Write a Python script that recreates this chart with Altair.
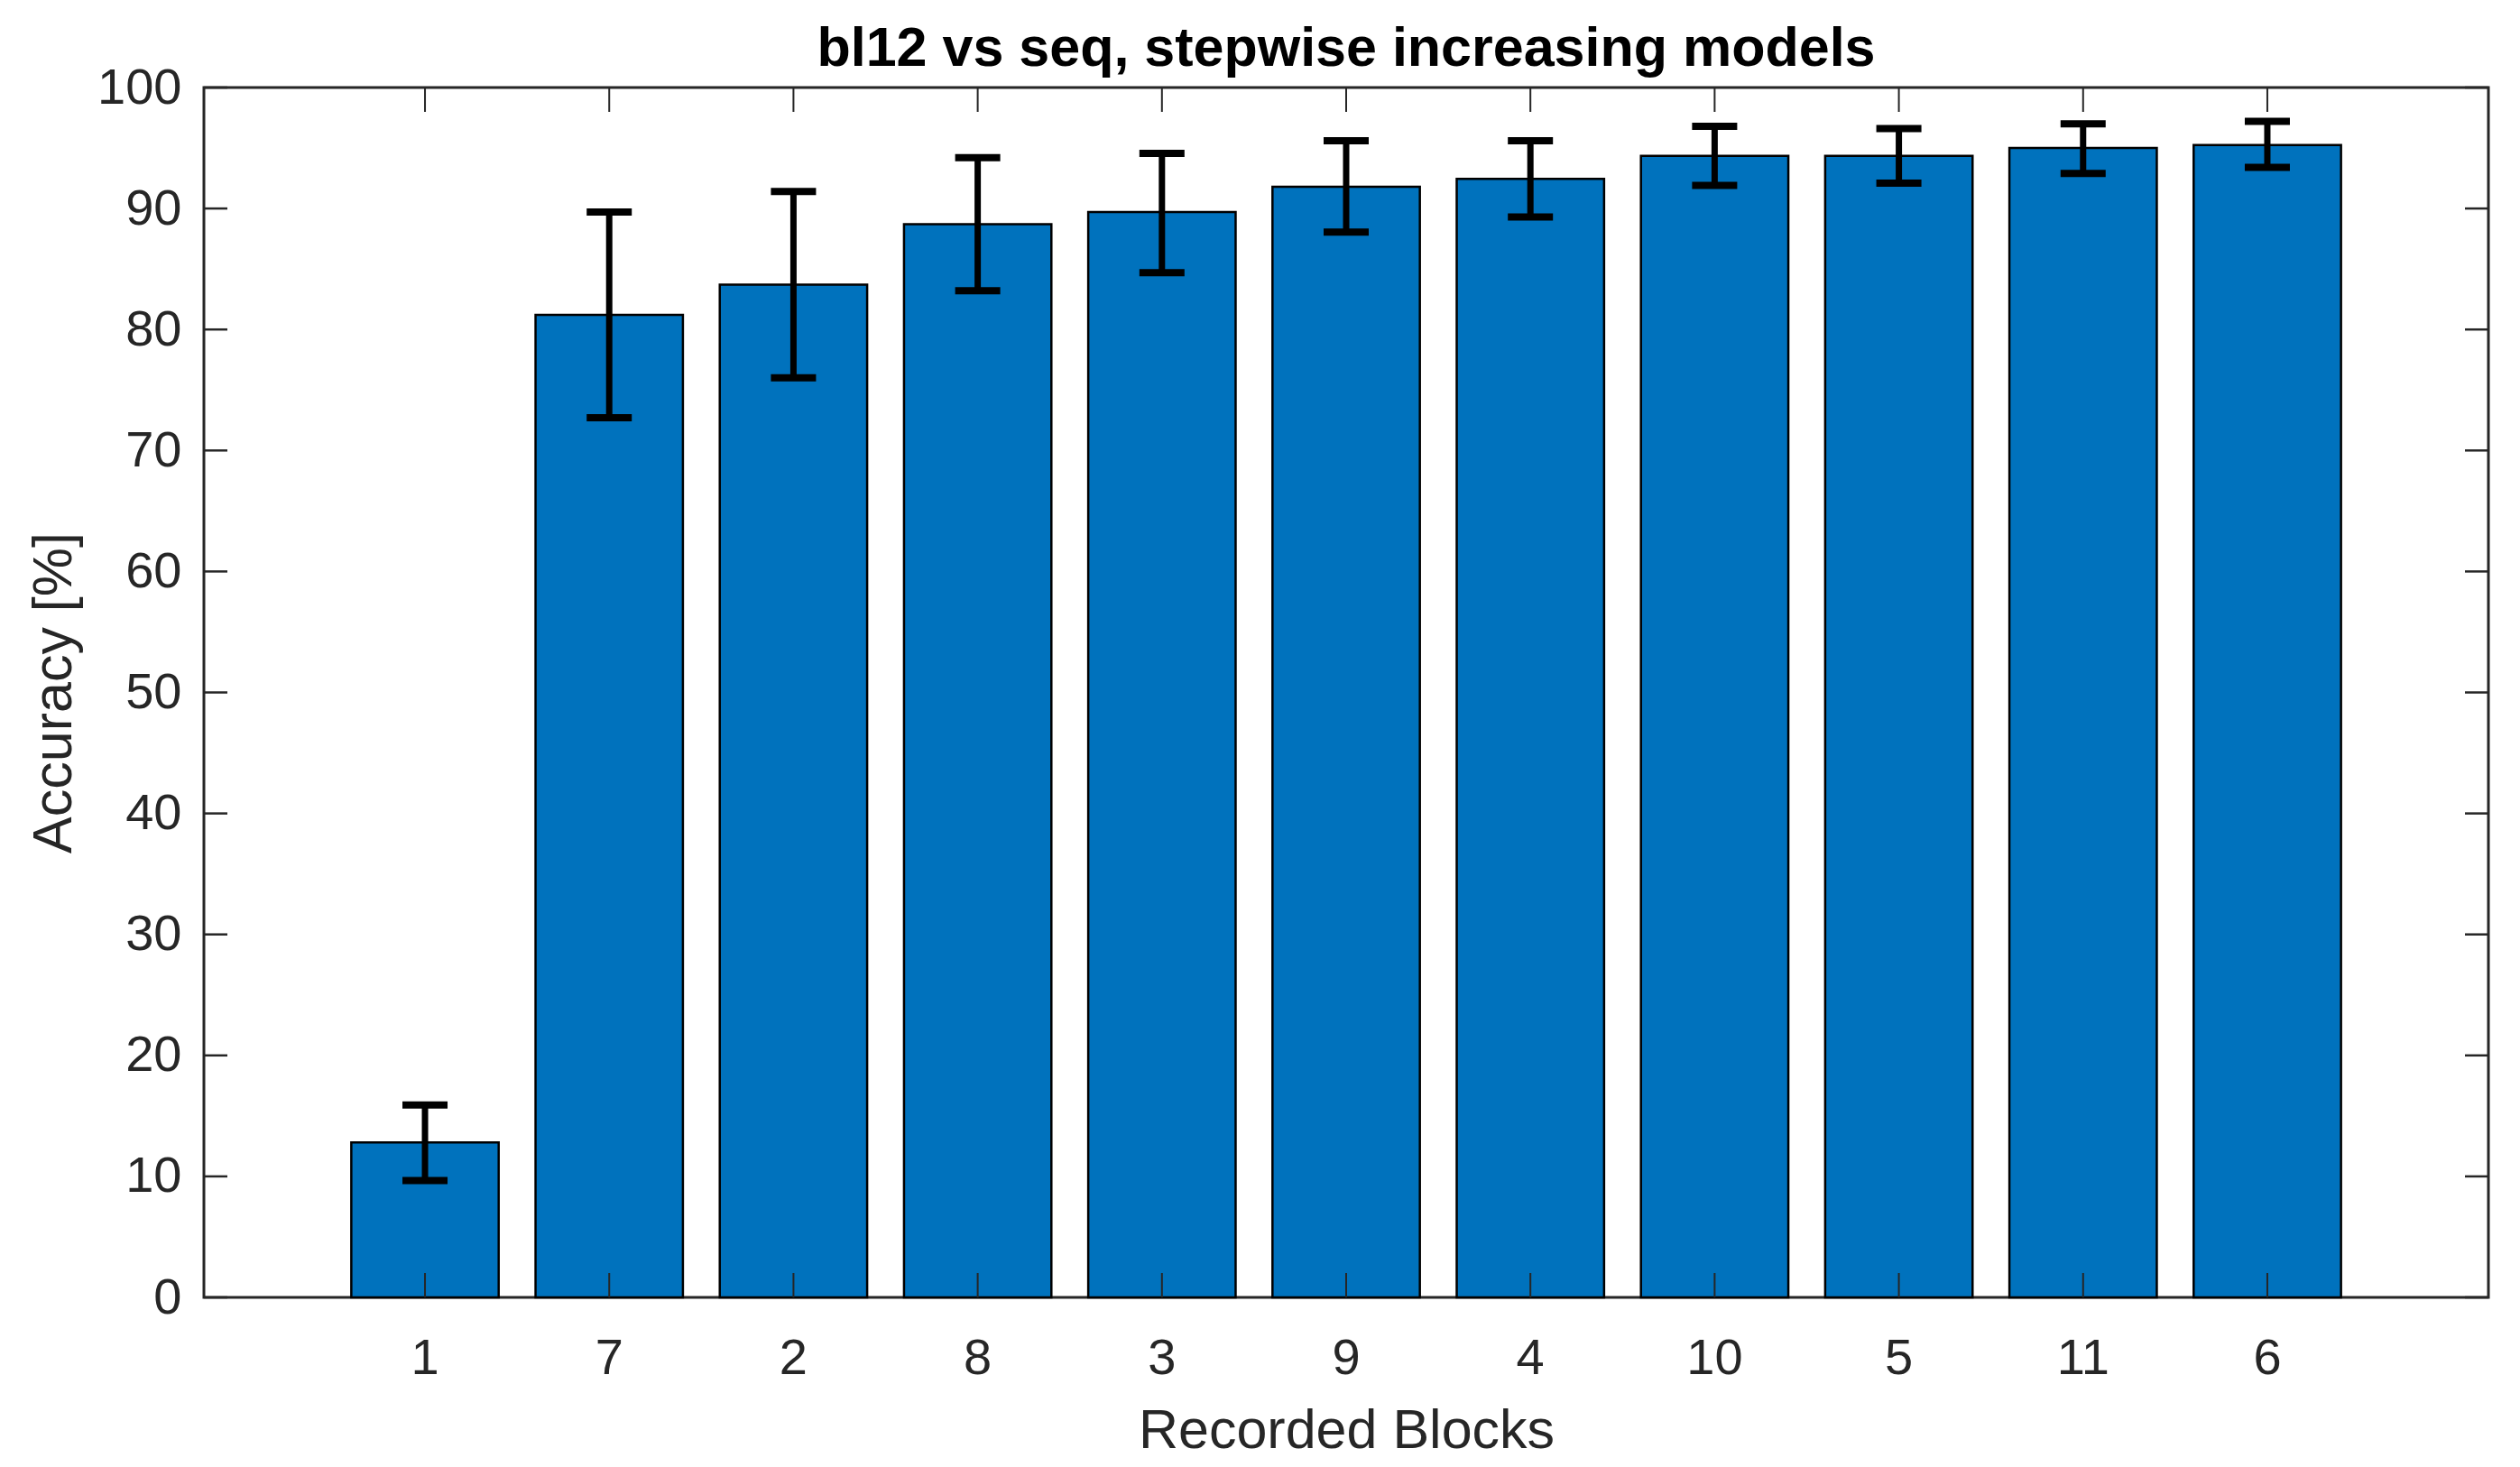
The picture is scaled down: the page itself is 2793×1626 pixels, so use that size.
import altair as alt
import pandas as pd

# ---- data ----
blocks = ["1", "7", "2", "8", "3", "9", "4", "10", "5", "11", "6"]
accuracy = [12.8, 81.2, 83.7, 88.7, 89.7, 91.8, 92.45, 94.35, 94.35, 95.0, 95.25]
err_low = [9.65, 72.7, 76.0, 83.2, 84.7, 88.05, 89.3, 91.9, 92.1, 92.9, 93.4]
err_high = [15.9, 89.7, 91.4, 94.2, 94.55, 95.6, 95.6, 96.8, 96.6, 97.0, 97.2]
y_ticks = [0, 10, 20, 30, 40, 50, 60, 70, 80, 90, 100]
title_text = ["bl12 vs seq, stepwise increasing models"]

df = pd.DataFrame({"block": blocks, "acc": accuracy, "lo": err_low, "hi": err_high})
df_y = pd.DataFrame({"v": y_ticks})
df_t = pd.DataFrame({"t": title_text})

W, H = 2532, 1341
FONT = "Liberation Sans"
INK = "#262626"

xscale = alt.Scale(domain=blocks, paddingInner=0.2, paddingOuter=0.8)
yscale = alt.Scale(domain=[0, 100], nice=False, zero=True)

X = alt.X("block:N", scale=xscale, sort=blocks,
          axis=alt.Axis(title="Recorded Blocks", labelAngle=0, ticks=False, tickSize=0,
                        domain=False, labelPadding=84, labelBaseline="alphabetic",
                        labelFontSize=56, labelColor=INK, labelFont=FONT,
                        titleFontSize=61, titleFont=FONT, titleColor=INK,
                        titleFontWeight="normal", titleY=166, titleBaseline="alphabetic"))
Xn = alt.X("block:N", scale=xscale, sort=blocks)
Y = alt.Y("acc:Q", scale=yscale,
          axis=alt.Axis(title="Accuracy [%]", values=y_ticks, ticks=False, tickSize=0,
                        domain=False, grid=False, labelPadding=25,
                        labelFontSize=56, labelColor=INK, labelFont=FONT,
                        titleFontSize=61, titleFont=FONT, titleColor=INK,
                        titleFontWeight="normal", titleX=-148, titleBaseline="alphabetic",
                        titleAngle=270))

base = alt.Chart(df)

bars = base.mark_bar(color="#0072BD", stroke="#000000", strokeWidth=2.5).encode(x=X, y=Y)

stems = base.mark_rule(color="#000000", strokeWidth=7).encode(
    x=Xn, y=alt.Y("lo:Q", scale=yscale), y2="hi:Q")

caps_lo = base.mark_tick(color="#000000", thickness=8, size=50, opacity=1).encode(
    x=Xn, y=alt.Y("lo:Q", scale=yscale))
caps_hi = base.mark_tick(color="#000000", thickness=8, size=50, opacity=1).encode(
    x=Xn, y=alt.Y("hi:Q", scale=yscale))

xt_bottom = base.mark_rule(color=INK, strokeWidth=2).encode(
    x=Xn, y=alt.value(H), y2=alt.value(H - 27))
xt_top = base.mark_rule(color=INK, strokeWidth=2).encode(
    x=Xn, y=alt.value(0), y2=alt.value(27))

ybase = alt.Chart(df_y)
yt_left = ybase.mark_rule(color=INK, strokeWidth=2.5).encode(
    y=alt.Y("v:Q", scale=yscale), x=alt.value(0), x2=alt.value(26))
yt_right = ybase.mark_rule(color=INK, strokeWidth=2.5).encode(
    y=alt.Y("v:Q", scale=yscale), x=alt.value(W - 26), x2=alt.value(W))

title = alt.Chart(df_t).mark_text(font=FONT, fontSize=61, fontWeight="bold", color="#000000",
                                  align="center", baseline="alphabetic").encode(
    text="t:N", x=alt.value(W / 2), y=alt.value(-24))

chart = alt.layer(bars, stems, caps_lo, caps_hi, xt_bottom, xt_top, yt_left, yt_right, title).properties(
    width=W, height=H,
    autosize=alt.AutoSizeParams(type="none"),
    padding={"left": 218, "top": 89, "right": 27, "bottom": 178},
    background="white",
).configure_view(stroke=INK, strokeWidth=3)

chart.save("out.html", embed_options={"renderer": "svg", "actions": False})
